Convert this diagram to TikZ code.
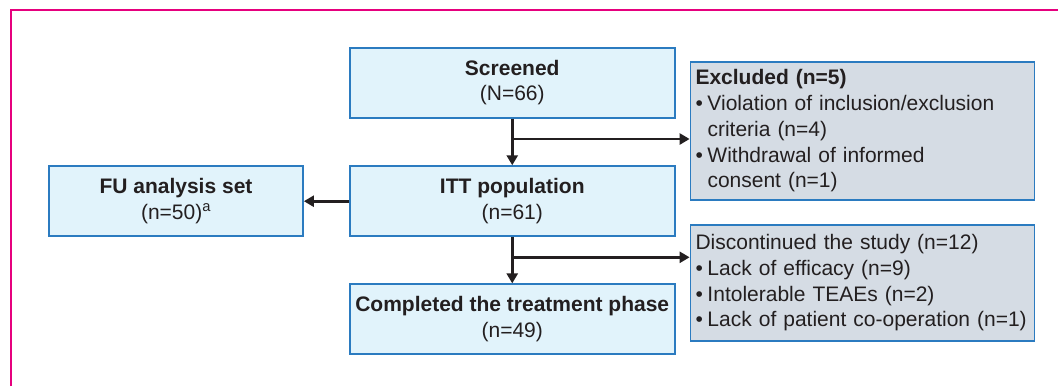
\documentclass[tikz,border=0pt]{standalone}
\usepackage{fontspec}
\setmainfont{Liberation Sans}
\usetikzlibrary{arrows.meta}
\definecolor{pinkline}{HTML}{E6007E}
\definecolor{bluefill}{HTML}{E1F3FB}
\definecolor{blueline}{HTML}{2B7BC0}
\definecolor{grayfill}{HTML}{D5DCE4}
\definecolor{arrowcol}{HTML}{231F20}
\tikzset{
  mainbox/.style={draw=blueline, fill=bluefill, line width=1.8pt, align=center, inner sep=0pt,
    font=\fontsize{21}{25.5}\selectfont, text=arrowcol},
  sidebox/.style={draw=blueline, fill=grayfill, line width=1.8pt, align=left, inner sep=0pt,
    font=\fontsize{21}{25.8}\selectfont, text=arrowcol},
  flow/.style={draw=arrowcol, line width=2.6pt, -{Triangle[length=10pt,width=11pt]}},
}
\newcommand{\bul}{\makebox[12pt][l]{\textbullet}}
\begin{document}
\begin{tikzpicture}[x=1pt,y=1pt]
\useasboundingbox (0,0) rectangle (1058,-386);
\draw[pinkline, line width=2.5pt] (11,-386) -- (11,-10) -- (1058,-10);

\node[mainbox, minimum width=325pt, minimum height=70pt] (scr) at (512.25,-82.6)
  {\textbf{Screened}\\(N=66)};
\node[mainbox, minimum width=325pt, minimum height=70pt] (itt) at (512.25,-201.2)
  {\textbf{ITT population}\\(n=61)};
\node[mainbox, minimum width=254pt, minimum height=70pt] (fu) at (176,-201.2)
  {\textbf{FU analysis set}\\(n=50)\textsuperscript{a}};
\node[mainbox, minimum width=325pt, minimum height=70pt] (comp) at (512.25,-319.3)
  {\textbf{Completed the treatment phase}\\(n=49)};

\node[sidebox, minimum width=344pt, minimum height=138pt, text width=334pt] (exc) at (862.5,-130.8)
  {\textbf{Excluded (n=5)}\\
   \bul Violation of inclusion/exclusion\\
   \hspace*{12pt}criteria (n=4)\\
   \bul Withdrawal of informed\\
   \hspace*{12pt}consent (n=1)};
\node[sidebox, minimum width=344pt, minimum height=116pt, text width=334pt] (disc) at (862.5,-282.7)
  {Discontinued the study (n=12)\\
   \bul Lack of efficacy (n=9)\\
   \bul Intolerable TEAEs (n=2)\\
   \bul Lack of patient co-operation (n=1)};

\coordinate (b1) at (scr.south |- 0,-139);
\coordinate (b2) at (itt.south |- 0,-257.3);

\draw[flow] (scr.south) -- (itt.north);
\draw[flow] (b1) -- (b1 -| exc.west);
\draw[flow] (itt.south) -- (comp.north);
\draw[flow] (b2) -- (b2 -| disc.west);
\draw[flow] (itt.west) -- (fu.east);
\end{tikzpicture}
\end{document}
